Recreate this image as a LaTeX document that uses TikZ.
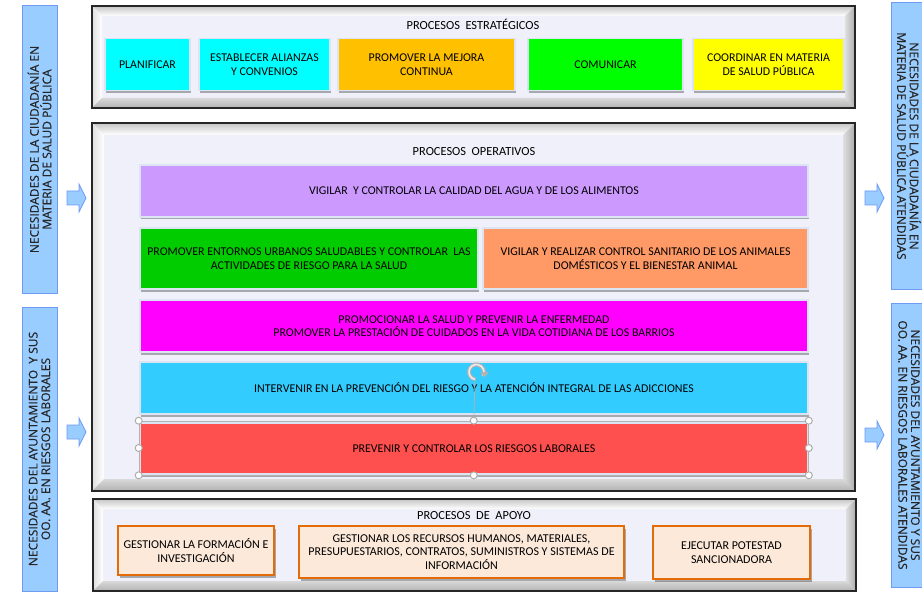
\documentclass[tikz,border=0pt]{standalone}
\usepackage{fontspec}
\setmainfont{Carlito}
\newfontfamily\sidefont[FakeBold=0.5]{Open Sans}
\usetikzlibrary{shadows,arrows.meta,calc}
\definecolor{faceC}{HTML}{F0F0FA}
\definecolor{edgeC}{HTML}{DCE4F4}
\definecolor{cCyan}{HTML}{00FFFF}
\definecolor{cAmber}{HTML}{FFC000}
\definecolor{cLime}{HTML}{00FF00}
\definecolor{cYellow}{HTML}{FFFF00}
\definecolor{cLilac}{HTML}{CC99FF}
\definecolor{cGreen}{HTML}{00CC00}
\definecolor{cSalmon}{HTML}{FF9966}
\definecolor{cMagenta}{HTML}{FF00FF}
\definecolor{cSky}{HTML}{33CCFF}
\definecolor{cRed}{HTML}{FF5050}
\definecolor{apFill}{HTML}{FCE9DA}
\definecolor{apEdge}{HTML}{E36C09}
\definecolor{sideFill}{HTML}{99CCFF}
\definecolor{sideEdge}{HTML}{6F9BF5}
\newcommand{\bevframe}[5]{%
  \fill[faceC] (#1,#2) rectangle (#3,#4);
  \shade[top color=gray!45, bottom color=white] (#1,#2) -- (#3,#2) -- ({#3-#5},{#2+#5}) -- ({#1+#5},{#2+#5}) -- cycle;
  \shade[left color=gray!25, right color=white] (#1,#2) -- ({#1+#5},{#2+#5}) -- ({#1+#5},{#4-#5}) -- (#1,#4) -- cycle;
  \shade[left color=gray!25, right color=gray!65] (#3,#2) -- ({#3-#5},{#2+#5}) -- ({#3-#5},{#4-#5}) -- (#3,#4) -- cycle;
  \shade[top color=gray!30, bottom color=gray!60] (#1,#4) -- ({#1+#5},{#4-#5}) -- ({#3-#5},{#4-#5}) -- (#3,#4) -- cycle;
}
\begin{document}
\begin{tikzpicture}[x=1pt,y=-1pt,
  frame/.style={draw=black!85, line width=2pt, inner sep=0pt},
  cbox/.style={draw=edgeC, line width=1.2pt, inner sep=2pt, align=center,
     font=\fontsize{11.9}{13.5}\selectfont, text=black,
     drop shadow={shadow xshift=1pt, shadow yshift=-2.5pt, fill=black, opacity=0.3}},
  abox/.style={draw=apEdge, fill=apFill, line width=1.5pt, inner sep=2pt, align=center,
     font=\fontsize{12}{13.5}\selectfont, text=black,
     drop shadow={shadow xshift=1.5pt, shadow yshift=-2.5pt, fill=black, opacity=0.3}},
  ttl/.style={font=\fontsize{12.4}{13}\selectfont, text=black, inner sep=0pt},
  side/.style={draw=sideEdge, fill=sideFill, line width=1pt, inner sep=0pt, align=center,
     font=\sidefont\fontsize{12}{12.6}\selectfont, text=black!85},
  blockarrow/.style={draw=sideEdge, fill=sideFill, line width=0.8pt},
  handle/.style={circle, draw=gray!65, fill=white, line width=1pt, minimum size=7pt, inner sep=0pt}
]
\useasboundingbox (0,0) rectangle (922,599);
\fill[white] (0,0) rectangle (922,599);
\clip (0,0) rectangle (922,599);

% ---------- side boxes ----------
\node[side, rotate=90, minimum width=287, minimum height=35] (nL1) at (39.5,149.5)
  {NECESIDADES DE LA CIUDADANÍA EN\\MATERIA DE SALUD PÚBLICA};
\node[side, rotate=90, minimum width=284, minimum height=35] (nL2) at (39.5,449)
  {NECESIDADES DEL AYUNTAMIENTO~ Y SUS\\OO. AA. EN RIESGOS LABORALES};
\node[side, rotate=-90, minimum width=286, minimum height=35] (nR1) at (909,146)
  {NECESIDADES DE LA CIUDADANÍA EN\\MATERIA DE SALUD PÚBLICA ATENDIDAS};
\node[side, rotate=-90, minimum width=284, minimum height=35] (nR2) at (909,445)
  {NECESIDADES DEL AYUNTAMIENTO Y SUS\\OO. AA. EN RIESGOS LABORALES ATENDIDAS};

% ---------- block arrows ----------
\foreach \ax/\ay in {67/198, 67/432, 865/198, 865/435}{
  \draw[blockarrow] (\ax,\ay-7) -- (\ax+12,\ay-7) -- (\ax+12,\ay-14) -- (\ax+19,\ay)
     -- (\ax+12,\ay+14) -- (\ax+12,\ay+7) -- (\ax,\ay+7) -- cycle;
}

% ---------- strategic frame ----------
\bevframe{92}{6}{855}{108}{10}
\node[frame, minimum width=763, minimum height=102] (estr) at (473.5,57) {};
\node[ttl] (tEstr) at (473,24) {PROCESOS~ ESTRATÉGICOS};
\node[cbox, fill=cCyan, minimum width=85, minimum height=52] (planificar) at (147.5,64.5) {PLANIFICAR};
\node[cbox, fill=cCyan, minimum width=131, minimum height=52] (alianzas) at (264.5,64.5) {ESTABLECER ALIANZAS\\Y CONVENIOS};
\node[cbox, fill=cAmber, minimum width=177, minimum height=52] (mejora) at (426.5,64.5) {PROMOVER LA MEJORA\\CONTINUA};
\node[cbox, fill=cLime, minimum width=155, minimum height=52] (comunicar) at (605.5,64.5) {COMUNICAR};
\node[cbox, fill=cYellow, minimum width=151, minimum height=52] (coordinar) at (768.5,64.5) {COORDINAR EN MATERIA\\DE SALUD PÚBLICA};

% ---------- operative frame ----------
\bevframe{92}{123}{855}{491}{12}
\node[frame, minimum width=763, minimum height=368] (oper) at (473.5,307) {};
\node[ttl] (tOper) at (474,152) {PROCESOS~ OPERATIVOS};
\node[cbox, fill=cLilac, minimum width=668, minimum height=52] (agua) at (474,191)
  {VIGILAR~ Y CONTROLAR LA CALIDAD DEL AGUA Y DE LOS ALIMENTOS};
\node[cbox, fill=cGreen, minimum width=338, minimum height=61] (entornos) at (309,258.5)
  {PROMOVER ENTORNOS URBANOS SALUDABLES Y CONTROLAR~ LAS\\ACTIVIDADES DE RIESGO PARA LA SALUD};
\node[cbox, fill=cSalmon, minimum width=325, minimum height=61] (animales) at (645.5,258.5)
  {VIGILAR Y REALIZAR CONTROL SANITARIO DE LOS ANIMALES\\DOMÉSTICOS Y EL BIENESTAR ANIMAL};
\node[cbox, fill=cMagenta, minimum width=668, minimum height=52] (salud) at (474,326)
  {PROMOCIONAR LA SALUD Y PREVENIR LA ENFERMEDAD\\PROMOVER LA PRESTACIÓN DE CUIDADOS EN LA VIDA COTIDIANA DE LOS BARRIOS};
\node[cbox, fill=cSky, minimum width=668, minimum height=52] (adicciones) at (474,388)
  {INTERVENIR EN LA PREVENCIÓN DEL RIESGO Y LA ATENCIÓN INTEGRAL DE LAS ADICCIONES};
\node[cbox, fill=cRed, minimum width=668, minimum height=51] (laborales) at (474,448.5)
  {PREVENIR Y CONTROLAR LOS RIESGOS LABORALES};

% selection handles
\node[draw=gray!60, line width=0.6pt, minimum width=669.5, minimum height=54, inner sep=0pt] (sel) at (473.75,448) {};
\coordinate (rotc) at (476.5,372);
\coordinate (rotfoot) at (475,380);
\draw[gray!60, line width=0.8pt] (sel.north) -- (rotfoot);
\draw[gray!60, line width=4pt] ([shift={(100:7.5)}]rotc) arc[start angle=100, end angle=390, radius=7.5];
\draw[gray!15, line width=1.6pt] ([shift={(100:7.5)}]rotc) arc[start angle=100, end angle=390, radius=7.5];
\fill[gray!60] ($(rotc)+(12.5,0)$) -- ($(rotc)+(4,0)$) -- ($(rotc)+(8,5.5)$) -- cycle;
\foreach \p in {north west, west, south west, north, south, north east, east, south east}
  \node[handle] at (sel.\p) {};

% ---------- support frame ----------
\bevframe{93}{499}{856}{591}{10}
\node[frame, minimum width=763, minimum height=92] (apoyo) at (474.5,545) {};
\node[ttl] (tApoyo) at (474,516) {PROCESOS~ DE~ APOYO};
\node[abox, minimum width=156, minimum height=49] (formacion) at (196,550.5)
  {GESTIONAR LA FORMACIÓN E\\INVESTIGACIÓN};
\node[abox, minimum width=325, minimum height=52] (recursos) at (461.5,552)
  {GESTIONAR LOS RECURSOS HUMANOS, MATERIALES,\\PRESUPUESTARIOS, CONTRATOS, SUMINISTROS Y SISTEMAS DE\\INFORMACIÓN};
\node[abox, minimum width=157, minimum height=53] (potestad) at (731.5,552.5)
  {EJECUTAR POTESTAD\\SANCIONADORA};
\end{tikzpicture}
\end{document}
